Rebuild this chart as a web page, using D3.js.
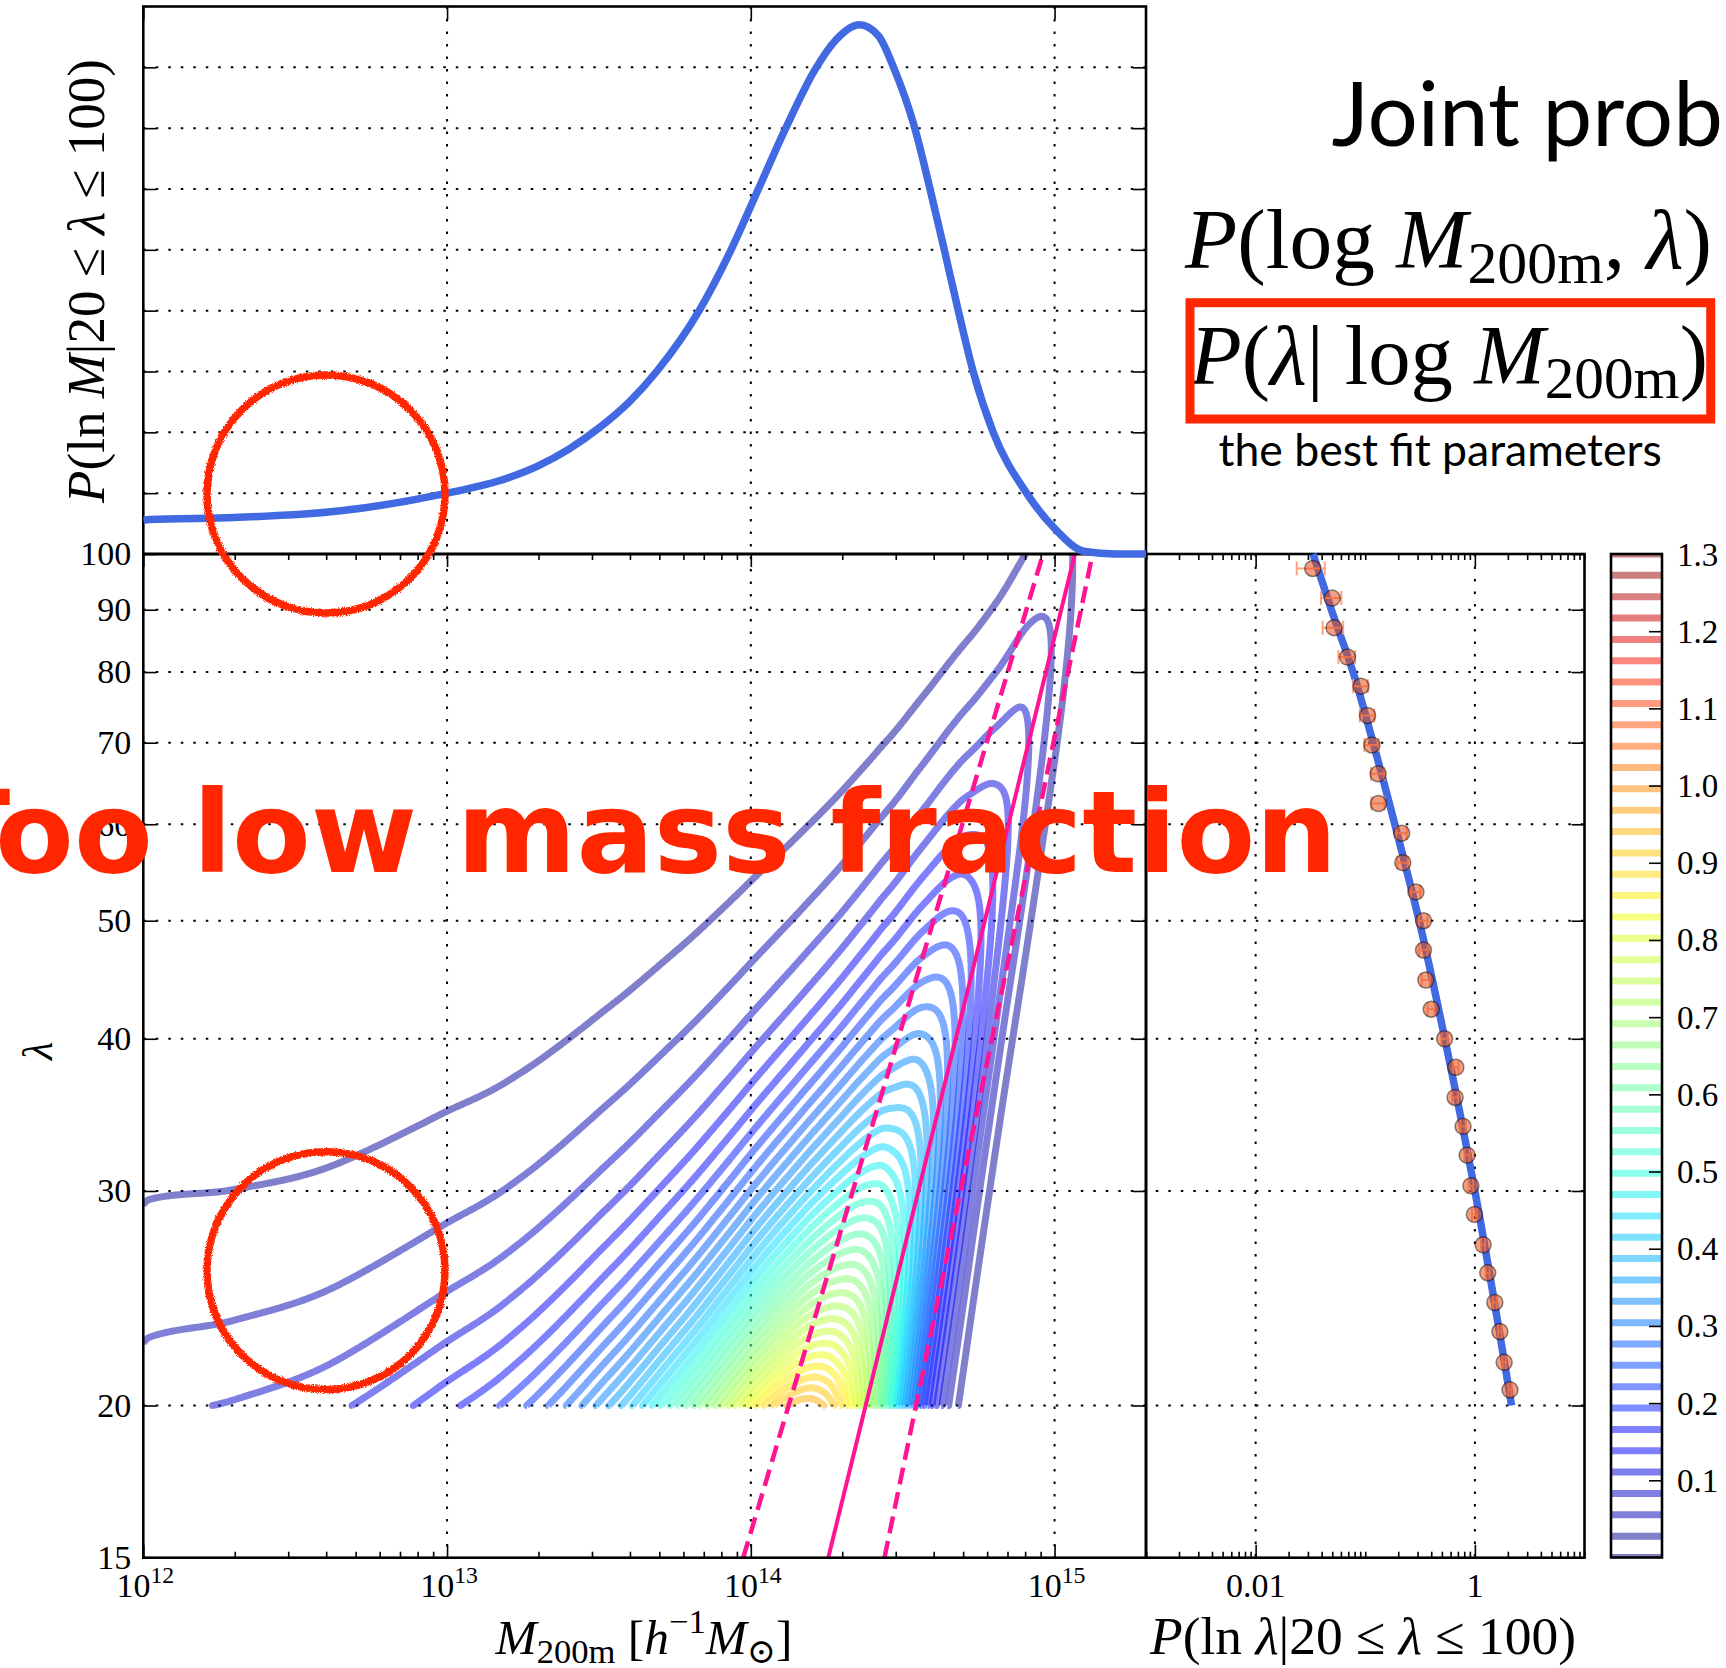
<!DOCTYPE html>
<html>
<head>
<meta charset="utf-8">
<title>Joint probability of halo mass and richness</title>
<script src="https://cdn.jsdelivr.net/npm/d3@7"></script>
<style>
  html, body { margin: 0; padding: 0; background: #fff; overflow: hidden; }
  svg { display: block; }
</style>
</head>
<body>
<svg id="chart" width="1726" height="1668"></svg>
<script>
// ---------------------------------------------------------------------------
// Mass distribution of clusters with 20 <= lambda <= 100, P(ln M | 20 <= lambda <= 100)
const massLog = [12.0, 12.02, 12.3, 12.65, 12.98, 13.2, 13.3, 13.4, 13.5, 13.6, 13.69,
                 13.83, 13.935, 14.025, 14.115, 14.21, 14.28, 14.357, 14.42, 14.47, 14.54,
                 14.59, 14.637, 14.683, 14.732, 14.798, 14.908, 15.0, 15.1, 15.2, 15.301];
const massPdf = [0.0276, 0.0283, 0.030, 0.0355, 0.049, 0.0625, 0.0725, 0.086, 0.1035, 0.125, 0.15,
                 0.2, 0.25, 0.3, 0.35, 0.3975, 0.4225, 0.435, 0.426, 0.4, 0.35,
                 0.3, 0.25, 0.2, 0.15, 0.1, 0.05, 0.021, 0.002, 0.0, 0.0];

// Mass-richness relation: richness at both ends and the log10 mass where each line reaches it
const relationLambda = [15, 100];
const meanMassLog = [14.255, 15.067];   // mean relation
const upperMassLog = [13.975, 14.962];  // +1 sigma
const lowerMassLog = [14.44, 15.125];   // -1 sigma

// Measured richness distribution P(ln lambda | 20 <= lambda <= 100)
const lambdaBins = [20.6, 21.7, 23.0, 24.3, 25.7, 27.1, 28.7, 30.3, 32.1, 33.9, 35.8, 37.9, 40.0,
                    42.3, 44.7, 47.3, 50.0, 52.8, 55.8, 59.0, 62.4, 66.0, 69.7, 73.7, 77.9, 82.3,
                    87.0, 92.0, 97.3];
const lambdaPdfObs = [2.09, 1.85, 1.69, 1.52, 1.31, 1.19, 0.99, 0.92, 0.85, 0.78, 0.66, 0.67, 0.53,
                      0.40, 0.357, 0.34, 0.34, 0.29, 0.22, 0.215, 0.132, 0.131, 0.115, 0.105,
                      0.0915, 0.0688, 0.0519, 0.050, 0.0332];
const lambdaPdfErr = [0.07, 0.065, 0.06, 0.06, 0.055, 0.05, 0.05, 0.045, 0.045, 0.045, 0.04, 0.04,
                      0.035, 0.03, 0.03, 0.03, 0.03, 0.028, 0.024, 0.024, 0.018, 0.018, 0.017,
                      0.016, 0.014, 0.012, 0.011, 0.0105, 0.0095];

// Best-fit model for the richness distribution
const lambdaModel = [20, 30, 40, 50, 60, 70, 80, 90, 100];
const lambdaPdfModel = [2.16, 1.0, 0.532, 0.31, 0.186, 0.118, 0.0774, 0.0491, 0.0334];

// Ticks and contour levels
const lambdaTicks = [15, 20, 30, 40, 50, 60, 70, 80, 90, 100];
const lambdaGrid = [20, 30, 40, 50, 60, 70, 80, 90];
const massTicks = [1e12, 1e13, 1e14, 1e15];
const massTickExp = ['12', '13', '14', '15'];
const pdfTicks = [0.01, 1];
const pdfTickLabels = ['0.01', '1'];
const topPdfGrid = [0.05, 0.1, 0.15, 0.2, 0.25, 0.3, 0.35, 0.4];
const colorbarTicks = [0.1, 0.2, 0.3, 0.4, 0.5, 0.6, 0.7, 0.8, 0.9, 1.0, 1.1, 1.2];
const colorbarLabels = ['0.1', '0.2', '0.3', '0.4', '0.5', '0.6', '0.7', '0.8', '0.9', '1.0', '1.1', '1.2', '1.3'];
const colorbarLabelValues = [0.1, 0.2, 0.3, 0.4, 0.5, 0.6, 0.7, 0.8, 0.9, 1.0, 1.1, 1.2, 1.3];
const levelMax = 1.3;
const levelCount = 48;

// ---------------------------------------------------------------------------
const SERIF = "'Liberation Serif', 'DejaVu Serif', serif";
const SANS_NAME = 'Lato';
const BOLD_NAME = 'DejaVu Sans';
const RED = '#ff2600';
const BLUE = '#4169e1';
const PINK = '#ff1493';

const svg = d3.select('#chart');
const defs = svg.append('defs');

const PM = {l: 143.3, r: 1146, t: 554, b: 1557.7};   // mass-richness plane
const PT = {l: 143.3, r: 1146, t: 6.5, b: 554};      // mass distribution
const PR = {l: 1146, r: 1584.5, t: 554, b: 1557.7};  // richness distribution
const PC = {l: 1611, r: 1662, t: 554, b: 1557.5};    // colour bar

const x = d3.scaleLog().domain([1e12, 2e15]).range([PM.l, PM.r]);
const y = d3.scaleLog().domain([15, 100]).range([PM.b, PM.t]);
const yTop = d3.scaleLinear().domain([0, 0.45]).range([PT.b, PT.t]);
const xR = d3.scaleLog().domain([1e-3, 10]).range([PR.l, PR.r]);
const yC = d3.scaleLinear().domain([0, levelMax]).range([PC.b, PC.t]);

// matplotlib "jet" colour map
const jetR = d3.scaleLinear().domain([0, 0.35, 0.66, 0.89, 1]).range([0, 0, 1, 1, 0.5]).clamp(true);
const jetG = d3.scaleLinear().domain([0, 0.125, 0.375, 0.64, 0.91, 1]).range([0, 0, 1, 1, 0, 0]).clamp(true);
const jetB = d3.scaleLinear().domain([0, 0.11, 0.34, 0.65, 1]).range([0.5, 1, 1, 0, 0]).clamp(true);
const jet = t => d3.rgb(255 * jetR(t), 255 * jetG(t), 255 * jetB(t)).formatHex();

const levels = d3.range(levelCount).map(i => levelMax * i / (levelCount - 1));

function addClip(id, r, padY) {
  defs.append('clipPath').attr('id', id).append('rect')
    .attr('x', r.l).attr('y', r.t - (padY || 0))
    .attr('width', r.r - r.l).attr('height', r.b - r.t + 2 * (padY || 0));
  return `url(#${id})`;
}
const clipMain = addClip('clip-main', PM);
const clipTop = addClip('clip-top', PT, 5);
const clipRight = addClip('clip-right', PR, 5);
const clipBar = addClip('clip-bar', PC);

const rough = defs.append('filter').attr('id', 'rough')
  .attr('x', '-10%').attr('y', '-10%').attr('width', '120%').attr('height', '120%');
rough.append('feTurbulence').attr('type', 'fractalNoise').attr('baseFrequency', 0.9)
  .attr('numOctaves', 2).attr('seed', 4).attr('result', 'noise');
rough.append('feDisplacementMap').attr('in', 'SourceGraphic').attr('in2', 'noise')
  .attr('scale', 4).attr('xChannelSelector', 'R').attr('yChannelSelector', 'G');

// ---------------------------------------------------------------------------
// grid lines
const grid = svg.append('g').attr('stroke', '#000').attr('stroke-width', 2)
  .attr('stroke-dasharray', '2.5 10').attr('fill', 'none');
massTicks.slice(1).forEach(m => grid.append('line')
  .attr('x1', x(m)).attr('x2', x(m)).attr('y1', PT.t).attr('y2', PM.b));
lambdaGrid.forEach(l => grid.append('line')
  .attr('x1', PM.l).attr('x2', PR.r).attr('y1', y(l)).attr('y2', y(l)));
pdfTicks.forEach(p => grid.append('line')
  .attr('x1', xR(p)).attr('x2', xR(p)).attr('y1', PR.t).attr('y2', PR.b));
topPdfGrid.forEach(p => grid.append('line')
  .attr('x1', PT.l).attr('x2', PT.r).attr('y1', yTop(p)).attr('y2', yTop(p)));

// ---------------------------------------------------------------------------
// joint density P(ln M, ln lambda) = P(ln M | sel) * P(ln lambda | M) / P(sel | M)
function monotone(xs, ys) {
  const n = xs.length, s = [], m = new Array(n);
  for (let i = 0; i < n - 1; i++) s.push((ys[i + 1] - ys[i]) / (xs[i + 1] - xs[i]));
  for (let i = 1; i < n - 1; i++) {
    const h0 = xs[i] - xs[i - 1], h1 = xs[i + 1] - xs[i];
    const p = (s[i - 1] * h1 + s[i] * h0) / (h0 + h1);
    m[i] = (Math.sign(s[i - 1]) + Math.sign(s[i])) *
      Math.min(Math.abs(s[i - 1]), Math.abs(s[i]), 0.5 * Math.abs(p)) || 0;
  }
  m[0] = (3 * s[0] - m[1]) / 2;
  m[n - 1] = (3 * s[n - 2] - m[n - 2]) / 2;
  return v => {
    const i = Math.min(n - 2, Math.max(0, d3.bisectRight(xs, v) - 1));
    const h = xs[i + 1] - xs[i], t = (v - xs[i]) / h;
    const t2 = t * t, t3 = t2 * t;
    return (2 * t3 - 3 * t2 + 1) * ys[i] + (t3 - 2 * t2 + t) * h * m[i] +
           (-2 * t3 + 3 * t2) * ys[i + 1] + (t3 - t2) * h * m[i + 1];
  };
}
function erfc(v) {
  const z = Math.abs(v), t = 1 / (1 + 0.5 * z);
  const r = t * Math.exp(-z * z - 1.26551223 + t * (1.00002368 + t * (0.37409196 + t * (0.09678418 +
    t * (-0.18628806 + t * (0.27886807 + t * (-1.13520398 + t * (1.48851587 +
    t * (-0.82215223 + t * 0.17087277)))))))));
  return v >= 0 ? r : 2 - r;
}
const tail = z => 0.5 * erfc(z / Math.SQRT2);
function between(a, b) {
  if (a >= 0) return tail(a) - tail(b);
  if (b <= 0) return tail(-b) - tail(-a);
  return 1 - tail(-a) - tail(b);
}

const lnRel = relationLambda.map(Math.log);
const meanLn = d3.scaleLinear().domain(meanMassLog).range(lnRel);
const upperLn = d3.scaleLinear().domain(upperMassLog).range(lnRel);
const lowerLn = d3.scaleLinear().domain(lowerMassLog).range(lnRel);
const pdfAt = monotone(massLog, massPdf);

const LN20 = Math.log(20), LN100 = Math.log(100);
const nx = 662, ny = 322;
const lx0 = Math.log10(x.domain()[0]), lx1 = Math.log10(x.domain()[1]);
const values = new Array(nx * ny).fill(0);
for (let i = 0; i < nx; i++) {
  const lm = lx0 + (lx1 - lx0) * i / (nx - 1);
  const mu = meanLn(lm);
  const sig = (upperLn(lm) - lowerLn(lm)) / 2;
  const g = Math.max(0, pdfAt(lm));
  const q = between((LN20 - mu) / sig, (LN100 - mu) / sig);
  if (!(g > 0) || !(q > 0) || !(sig > 0)) continue;
  const norm = g / (sig * Math.sqrt(2 * Math.PI) * q);
  for (let j = 0; j < ny; j++) {
    const yl = LN20 + (LN100 - LN20) * j / (ny - 1);
    const z = (yl - mu) / sig;
    values[j * nx + i] = norm * Math.exp(-0.5 * z * z);
  }
}

const toPx = p => {
  const ci = Math.max(0, Math.min(nx - 1, p[0] - 0.5));
  const cj = Math.max(0, Math.min(ny - 1, p[1] - 0.5));
  const lm = lx0 + (lx1 - lx0) * ci / (nx - 1);
  const yl = LN20 + (LN100 - LN20) * cj / (ny - 1);
  return [x(Math.pow(10, lm)), y(Math.exp(yl))];
};
const onEdge = p => p[0] === 0 || p[0] === nx || p[1] === 0 || p[1] === ny;

// split a closed contour ring into open runs, dropping the segments along the grid border
function openRuns(ring) {
  let pts = ring.slice();
  const a = pts[0], b = pts[pts.length - 1];
  if (a[0] === b[0] && a[1] === b[1]) pts = pts.slice(0, -1);
  const n = pts.length;
  let start = -1;
  for (let i = 0; i < n; i++) {
    if (onEdge(pts[i]) && onEdge(pts[(i + 1) % n])) { start = (i + 1) % n; break; }
  }
  if (start < 0) return [pts.concat([pts[0]])];
  const runs = [];
  let cur = [];
  for (let k = 0; k < n; k++) {
    const i = (start + k) % n, j = (i + 1) % n;
    cur.push(pts[i]);
    if (onEdge(pts[i]) && onEdge(pts[j])) {
      if (cur.length > 1) runs.push(cur);
      cur = [];
    }
  }
  if (cur.length > 1) runs.push(cur);
  return runs;
}

const contourSets = d3.contours().size([nx, ny]).thresholds(levels.slice(1))(values);
const lineGen = d3.line();
const gContour = svg.append('g').attr('clip-path', clipMain).attr('fill', 'none')
  .attr('stroke-width', 7).attr('stroke-linecap', 'butt').attr('stroke-linejoin', 'round');
contourSets.forEach(set => {
  const parts = [];
  set.coordinates.forEach(poly => poly.forEach(ring =>
    openRuns(ring).forEach(run => parts.push(lineGen(run.map(toPx))))));
  if (!parts.length) return;
  gContour.append('path').attr('d', parts.join(''))
    .attr('stroke', jet(set.value / levelMax)).attr('stroke-opacity', 0.5);
});

// mass-richness relation
const relLine = d3.line().x(d => x(Math.pow(10, d[0]))).y(d => y(d[1]));
const gRel = svg.append('g').attr('clip-path', clipMain).attr('fill', 'none').attr('stroke', PINK);
gRel.append('path').attr('d', relLine(meanMassLog.map((m, i) => [m, relationLambda[i]])))
  .attr('stroke-width', 4);
[upperMassLog, lowerMassLog].forEach(arr => gRel.append('path')
  .attr('d', relLine(arr.map((m, i) => [m, relationLambda[i]])))
  .attr('stroke-width', 4.5).attr('stroke-dasharray', '17 8'));

// ---------------------------------------------------------------------------
// frames and ticks
const frames = svg.append('g').attr('fill', 'none').attr('stroke', '#000').attr('stroke-width', 2.6);
[PT, PM, PR].forEach(r => frames.append('rect')
  .attr('x', r.l).attr('y', r.t).attr('width', r.r - r.l).attr('height', r.b - r.t));

function tickGroup(axis, tx, ty) {
  const g = svg.append('g').attr('transform', `translate(${tx},${ty})`).call(axis);
  g.select('.domain').remove();
  g.selectAll('line').attr('stroke', '#000').attr('stroke-width', 1.6);
  g.attr('font-family', SERIF).attr('font-size', 34);
  g.selectAll('text').attr('fill', '#000');
  return g;
}
const minorMass = x.ticks().filter(v => !massTicks.some(m => Math.abs(m / v - 1) < 1e-9));
const minorPdf = xR.ticks().filter(v => !pdfTicks.some(m => Math.abs(m / v - 1) < 1e-9));

tickGroup(d3.axisBottom(x).tickValues(minorMass).tickSize(-6).tickFormat(''), 0, PM.b);
tickGroup(d3.axisBottom(x).tickValues(massTicks).tickSize(-13).tickFormat(''), 0, PM.b);
tickGroup(d3.axisTop(x).tickValues(minorMass).tickSize(-6).tickFormat(''), 0, PM.t);
tickGroup(d3.axisTop(x).tickValues(massTicks).tickSize(-13).tickFormat(''), 0, PM.t);
tickGroup(d3.axisTop(x).tickValues(massTicks).tickSize(-13).tickFormat(''), 0, PT.t);
tickGroup(d3.axisLeft(y).tickValues(lambdaTicks).tickSize(-13).tickPadding(12)
  .tickFormat(d3.format('d')), PM.l, 0);
tickGroup(d3.axisRight(y).tickValues(lambdaTicks).tickSize(-13).tickFormat(''), PM.r, 0);
tickGroup(d3.axisRight(y).tickValues(lambdaTicks).tickSize(-13).tickFormat(''), PR.r, 0);
tickGroup(d3.axisLeft(yTop).tickValues(topPdfGrid).tickSize(-13).tickFormat(''), PT.l, 0);
tickGroup(d3.axisRight(yTop).tickValues(topPdfGrid).tickSize(-13).tickFormat(''), PT.r, 0);
tickGroup(d3.axisBottom(xR).tickValues(minorPdf).tickSize(-6).tickFormat(''), 0, PR.b);
tickGroup(d3.axisBottom(xR).tickValues(pdfTicks).tickSize(-13).tickFormat(''), 0, PR.b);
tickGroup(d3.axisTop(xR).tickValues(minorPdf).tickSize(-6).tickFormat(''), 0, PR.t);
tickGroup(d3.axisTop(xR).tickValues(pdfTicks).tickSize(-13).tickFormat(''), 0, PR.t);

// ---------------------------------------------------------------------------
// text helpers
function setMath(sel, runs, size, subShift) {
  sel.text(null);
  let shift = 0;
  runs.forEach(([s, kind]) => {
    const t = sel.append('tspan').text(s);
    let target = 0, fs = size;
    if (kind.indexOf('sub') >= 0) { target = (subShift || 0.2) * size; fs = 0.7 * size; }
    if (kind.indexOf('sup') >= 0) { target = -0.42 * size; fs = 0.7 * size; }
    t.attr('font-size', fs);
    if (target !== shift) t.attr('dy', target - shift);
    shift = target;
    if (kind.indexOf('it') >= 0) t.attr('font-style', 'italic');
  });
  return sel;
}
function fitMath(sel, runs, size, width, subShift) {
  setMath(sel, runs, size, subShift);
  const w = sel.node().getComputedTextLength();
  if (w > 0) setMath(sel, runs, size * width / w, subShift);
  return sel;
}
// place a plain text so that its inked extent spans [left, left + width]
const measureCtx = document.createElement('canvas').getContext('2d');
function inkOf(text, family, weight, size) {
  measureCtx.font = `${weight} ${size}px "${family}"`;
  const m = measureCtx.measureText(text);
  return {left: -m.actualBoundingBoxLeft, right: m.actualBoundingBoxRight, adv: m.width};
}
function placeInk(sel, text, family, weight, left, width, prefix) {
  const probe = inkOf(text, family, weight, 100);
  const size = 100 * width / (probe.right - probe.left);
  const ink = inkOf(text, family, weight, size);
  const lead = prefix ? inkOf(prefix, family, weight, size).adv : 0;
  sel.attr('font-family', `"${family}"`).attr('font-weight', weight).attr('font-size', size)
    .attr('x', left - ink.left - lead).text((prefix || '') + text);
  return sel;
}

const labels = svg.append('g').attr('font-family', SERIF).attr('fill', '#000');

// mass tick labels 10^n
massTicks.forEach((m, i) => setMath(labels.append('text')
  .attr('x', x(m) + 2).attr('y', 1597).attr('text-anchor', 'middle'),
  [['10', 'rm'], [massTickExp[i], 'sup']], 34));
// richness-distribution tick labels
pdfTicks.forEach((p, i) => labels.append('text').attr('x', xR(p)).attr('y', 1597)
  .attr('text-anchor', 'middle').attr('font-size', 34).text(pdfTickLabels[i]));

// axis titles
fitMath(labels.append('text').attr('x', 644).attr('y', 1654).attr('text-anchor', 'middle'),
  [['M', 'it'], ['200m', 'sub'], [' [', 'rm'], ['h', 'it'], ['\u22121', 'sup'],
   ['M', 'it'], ['\u2299', 'sub'], [']', 'rm']], 42, 297, 0.18);
fitMath(labels.append('text').attr('x', 1363).attr('y', 1654).attr('text-anchor', 'middle'),
  [['P', 'it'], ['(ln ', 'rm'], ['\u03bb', 'it'], ['|20 \u2264 ', 'rm'], ['\u03bb', 'it'],
   [' \u2264 100)', 'rm']], 40, 426);
fitMath(labels.append('text').attr('transform', 'translate(103.5,281) rotate(-90)')
  .attr('text-anchor', 'middle'),
  [['P', 'it'], ['(ln ', 'rm'], ['M', 'it'], ['|20 \u2264 ', 'rm'], ['\u03bb', 'it'],
   [' \u2264 100)', 'rm']], 40, 444);
labels.append('text').attr('transform', 'translate(52,1051) rotate(-90)')
  .attr('text-anchor', 'middle').attr('font-size', 42).attr('font-style', 'italic').text('\u03bb');

// ---------------------------------------------------------------------------
// mass distribution curve
svg.append('path').datum(massLog.map((m, i) => [m, massPdf[i]]))
  .attr('clip-path', clipTop).attr('fill', 'none').attr('stroke', BLUE)
  .attr('stroke-width', 7.5).attr('stroke-linejoin', 'round')
  .attr('d', d3.line().x(d => x(Math.pow(10, d[0]))).y(d => yTop(d[1])).curve(d3.curveMonotoneX));

// richness distribution: model and measurements
const gR = svg.append('g').attr('clip-path', clipRight);
gR.append('path').datum(lambdaModel.map((l, i) => [l, lambdaPdfModel[i]]))
  .attr('fill', 'none').attr('stroke', BLUE).attr('stroke-width', 7.5)
  .attr('d', d3.line().x(d => xR(d[1])).y(d => y(d[0])).curve(d3.curveMonotoneY));
const pts = lambdaBins.map((l, i) => ({l, p: lambdaPdfObs[i], e: lambdaPdfErr[i]}));
const gErr = gR.append('g').attr('stroke', '#ff9a70').attr('stroke-width', 2).attr('stroke-opacity', 0.9);
pts.forEach(d => {
  const x0 = xR(d.p - d.e), x1 = xR(d.p + d.e), yy = y(d.l);
  gErr.append('line').attr('x1', x0).attr('x2', x1).attr('y1', yy).attr('y2', yy);
  [x0, x1].forEach(xx => gErr.append('line').attr('x1', xx).attr('x2', xx)
    .attr('y1', yy - 7).attr('y2', yy + 7));
});
gR.append('g').selectAll('circle').data(pts).join('circle')
  .attr('cx', d => xR(d.p)).attr('cy', d => y(d.l)).attr('r', 8)
  .attr('fill', '#e8501a').attr('fill-opacity', 0.55)
  .attr('stroke', '#000').attr('stroke-opacity', 0.45).attr('stroke-width', 1.5);

// ---------------------------------------------------------------------------
// colour bar of the contour levels
const gBar = svg.append('g');
gBar.append('g').attr('clip-path', clipBar).selectAll('line').data(levels).join('line')
  .attr('x1', PC.l).attr('x2', PC.r).attr('y1', d => yC(d)).attr('y2', d => yC(d))
  .attr('stroke', d => jet(d / levelMax)).attr('stroke-opacity', 0.5).attr('stroke-width', 7);
gBar.append('rect').attr('x', PC.l).attr('y', PC.t).attr('width', PC.r - PC.l)
  .attr('height', PC.b - PC.t).attr('fill', 'none').attr('stroke', '#000').attr('stroke-width', 2.6);
tickGroup(d3.axisRight(yC).tickValues(colorbarTicks).tickSize(-13).tickFormat(''), PC.r, 0);
colorbarLabelValues.forEach((v, i) => labels.append('text').attr('x', 1677).attr('y', yC(v) + 11.5)
  .attr('font-size', 33).text(colorbarLabels[i]));

// ---------------------------------------------------------------------------
// annotations
const notes = svg.append('g');
placeInk(notes.append('text').attr('y', 146.4).attr('fill', '#000'),
  'Joint prob', SANS_NAME, 'normal', 1332.5, 387);

fitMath(notes.append('text').attr('x', 1185).attr('y', 268).attr('font-family', SERIF),
  [['P', 'it'], ['(log ', 'rm'], ['M', 'it'], ['200m', 'sub'], [', ', 'rm'], ['\u03bb', 'it'],
   [')', 'rm']], 74, 527, 0.17);
fitMath(notes.append('text').attr('x', 1190).attr('y', 384).attr('font-family', SERIF),
  [['P', 'it'], ['(', 'rm'], ['\u03bb', 'it'], ['| log ', 'rm'], ['M', 'it'], ['200m', 'sub'],
   [')', 'rm']], 74, 518, 0.17);
notes.append('rect').attr('x', 1190).attr('y', 302.7).attr('width', 520.7).attr('height', 116.3)
  .attr('fill', 'none').attr('stroke', RED).attr('stroke-width', 9);
placeInk(notes.append('text').attr('y', 466).attr('fill', '#000'),
  'the best fit parameters', SANS_NAME, 'normal', 1218.5, 441);

placeInk(notes.append('text').attr('y', 871.7).attr('fill', RED),
  'low mass fraction', BOLD_NAME, 'bold', 201.7, 1127, 'Too ');

[[326, 494], [326, 1270.7]].forEach(c => notes.append('circle')
  .attr('cx', c[0]).attr('cy', c[1]).attr('r', 119)
  .attr('fill', 'none').attr('stroke', RED).attr('stroke-width', 7.5)
  .attr('filter', 'url(#rough)'));
</script>
</body>
</html>
